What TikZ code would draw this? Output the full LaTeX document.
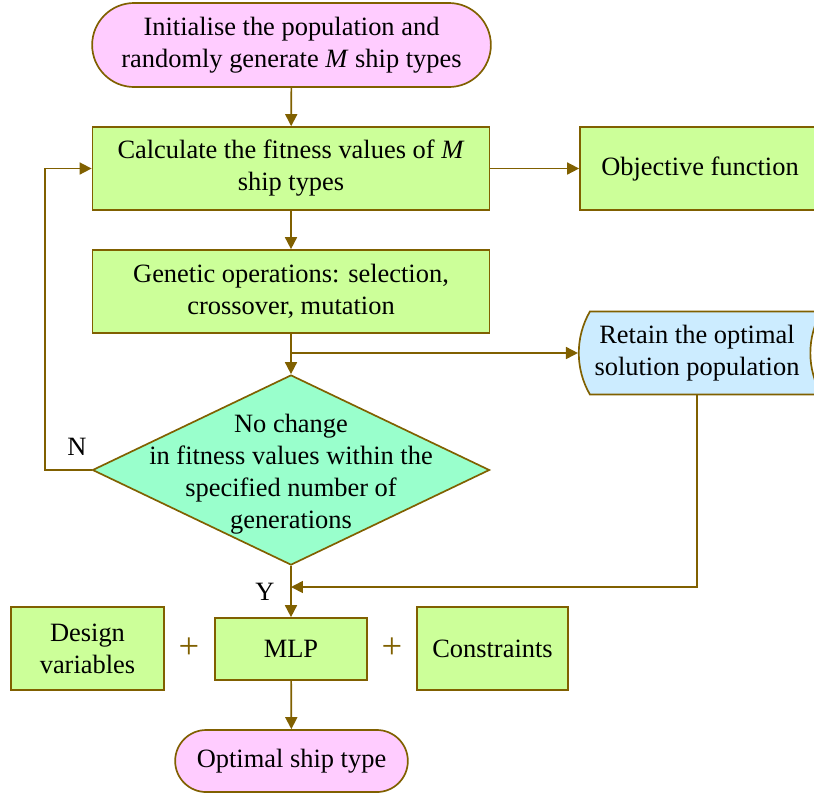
\documentclass[tikz,border=0pt]{standalone}
\usepackage{fontspec}
\setmainfont{Liberation Serif}
\usetikzlibrary{arrows.meta,shapes.misc,shapes.geometric}
\definecolor{flowline}{RGB}{128,96,0}
\definecolor{termpink}{RGB}{255,204,255}
\definecolor{boxgreen}{RGB}{204,255,153}
\definecolor{decaqua}{RGB}{153,255,204}
\definecolor{storeblue}{RGB}{204,236,255}

\begin{document}
\begin{tikzpicture}[x=0.025cm,y=-0.025cm,>={Triangle[length=8.5pt,width=8.5pt]},
  font=\fontsize{18.8}{22.8}\selectfont,
  box/.style={rectangle,draw=flowline,line width=1.2pt,fill=boxgreen,align=center,inner sep=2pt},
  term/.style={rounded rectangle,draw=flowline,line width=1.2pt,fill=termpink,align=center},
  store/.style={rounded rectangle,draw=flowline,line width=1.2pt,fill=storeblue,align=center,
    rounded rectangle arc length=60,
    rounded rectangle west arc=convex,
    rounded rectangle east arc=concave},
  decision/.style={diamond,draw=flowline,line width=1.2pt,fill=decaqua,inner sep=0pt},
  plus/.style={text=flowline,font=\fontsize{26}{26}\selectfont},
  flow/.style={->,draw=flowline,line width=1.2pt}]
  \useasboundingbox (0,0) rectangle (814,792);
  % main column
  \node[term,minimum width=10.2cm,minimum height=2.1cm] (init) at (291.5,45)
    {Initialise the population and\\randomly generate \textit{M} ship types};
  \node[box,minimum width=9.925cm,minimum height=2.075cm] (fit) at (291,168.5)
    {Calculate the fitness values of \textit{M}\\ship types};
  \node[box,minimum width=6cm,minimum height=2.075cm] (obj) at (700,168.5) {Objective function};
  \node[box,minimum width=9.925cm,minimum height=2.075cm] (gen) at (291,291.5)
    {Genetic operations: selection,\\crossover, mutation};
  \node[store,minimum width=6.3cm,minimum height=2.075cm] (keep) at (697,353)
    {Retain the optimal\\solution population};
  \node[decision,minimum width=9.925cm,minimum height=4.75cm] (stop) at (291,470) {};
  \node[align=center] (stoptext) at (291,474)
    {No change\\in fitness values within the\\specified number of\\generations};
  % bottom row
  \node[box,minimum width=3.825cm,minimum height=2.075cm] (vars) at (87.5,648.5) {Design\\variables};
  \node[plus] (plusa) at (189,648) {+};
  \node[box,minimum width=3.8cm,minimum height=1.55cm] (mlp) at (291,649) {MLP};
  \node[plus] (plusb) at (392,648) {+};
  \node[box,minimum width=3.775cm,minimum height=2.075cm] (cons) at (492.5,648.5) {Constraints};
  \node[term,minimum width=6.05cm,minimum height=1.55cm] (best) at (291.5,761) {Optimal ship type};
  % connectors
  \coordinate (split) at (291,353);
  \coordinate (loop) at (45,470);
  \coordinate (merge) at (291,587);
  \draw[flow] (init) -- (fit);
  \draw[flow] (fit) -- (obj);
  \draw[flow] (fit) -- (gen);
  \draw[flow] (gen.south) -- (split) -- (keep.west);
  \draw[flow] (split) -- (stop.north);
  \draw[flow] (stop.west) -- (loop) |- (fit.west);
  \node (no) at (77,447) {N};
  \draw[flow] (keep.south) |- (merge);
  \draw[flow] (stop.south) -- (mlp.north);
  \node (yes) at (265,592) {Y};
  \draw[flow] (mlp) -- (best);
\end{tikzpicture}
\end{document}
